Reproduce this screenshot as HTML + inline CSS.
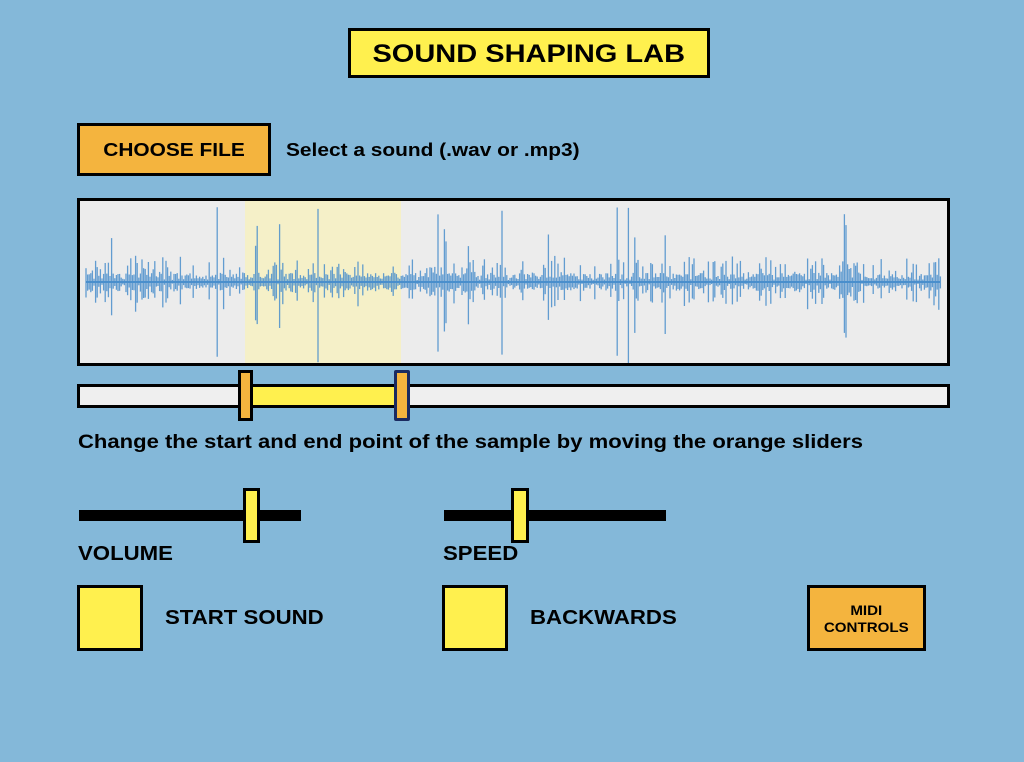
<!DOCTYPE html>
<html><head><meta charset="utf-8"><style>
body{margin:0;width:1024px;height:762px;background:#84b8d9;position:relative;overflow:hidden;font-family:"Liberation Sans",sans-serif;font-weight:bold;color:#000}
.a{position:absolute;box-sizing:border-box}
.t{transform:scaleX(1.16);transform-origin:0 0;white-space:nowrap}
.u{transform:scaleX(1.11);transform-origin:0 0;white-space:nowrap}
.c{display:inline-block;transform:scaleX(1.16)}
</style></head><body>
<div class="a" style="left:348px;top:28px;width:362px;height:50px;background:#fff04e;border:3px solid #000;font-size:25px;text-align:center;line-height:46px"><span class="c">SOUND SHAPING LAB</span></div>
<div class="a" style="left:77px;top:123px;width:194px;height:53px;background:#f4b43e;border:3px solid #000;font-size:18px;text-align:center;line-height:49px"><span class="c">CHOOSE FILE</span></div>
<div class="a t" style="left:286px;top:140px;font-size:18px">Select a sound (.wav or .mp3)</div>
<div class="a" style="left:77px;top:198px;width:873px;height:168px;background:#ececec;border:3px solid #000;overflow:hidden">
<div class="a" style="left:165px;top:0;width:156px;height:162px;background:#f5f0c8"></div>
<svg id="w" class="a" style="left:0;top:0" width="867" height="162"></svg>
</div>
<div class="a" style="left:77px;top:384px;width:873px;height:24px;background:#efefef;border:3px solid #000"></div>
<div class="a" style="left:250px;top:387px;width:147px;height:18px;background:#fff04e"></div>
<div class="a" style="left:238px;top:370px;width:15px;height:51px;background:#f4b43e;border:3px solid #000"></div>
<div class="a" style="left:394px;top:370px;width:16px;height:51px;background:#f4b43e;border:3px solid #1a2a60;border-radius:2px"></div>
<div class="a t" style="left:78px;top:432px;font-size:19px">Change the start and end point of the sample by moving the orange sliders</div>
<div class="a" style="left:79px;top:510px;width:222px;height:11px;background:#000"></div>
<div class="a" style="left:243px;top:488px;width:17px;height:55px;background:#fff04e;border:3px solid #000"></div>
<div class="a" style="left:444px;top:510px;width:222px;height:11px;background:#000"></div>
<div class="a" style="left:511px;top:488px;width:18px;height:55px;background:#fff04e;border:3px solid #000"></div>
<div class="a u" style="left:78px;top:543px;font-size:20px">VOLUME</div>
<div class="a u" style="left:443px;top:543px;font-size:20px">SPEED</div>
<div class="a" style="left:77px;top:585px;width:66px;height:66px;background:#fff04e;border:3px solid #000"></div>
<div class="a u" style="left:165px;top:607px;font-size:20px">START SOUND</div>
<div class="a" style="left:442px;top:585px;width:66px;height:66px;background:#fff04e;border:3px solid #000"></div>
<div class="a u" style="left:530px;top:607px;font-size:20px">BACKWARDS</div>
<div class="a" style="left:807px;top:585px;width:119px;height:66px;background:#f4b43e;border:3px solid #000;font-size:14px;text-align:center;padding-top:14px;line-height:17px"><span class="c" style="transform:scaleX(1.08)">MIDI<br>CONTROLS</span></div>
<script>
var s=1234567;function r(){s=(s*16807)%2147483647;return s/2147483647;}
var h='',c=81;
for(var x=6;x<862;x+=1.6){var a=2+r()*7;if(r()<0.35)a+=r()*18;if(r()<0.045)a=25+r()*50;
h+='<line x1="'+x.toFixed(1)+'" x2="'+x.toFixed(1)+'" y1="'+(c-a).toFixed(1)+'" y2="'+(c+a*(0.7+r()*0.5)).toFixed(1)+'"/>';}
document.getElementById('w').innerHTML='<line x1="6" x2="860" y1="81" y2="81" stroke="#4a8fcc" stroke-width="2"/><g stroke="#4a8fcc" stroke-width="1.3" opacity="0.85">'+h+'</g>';
</script>
</body></html>
